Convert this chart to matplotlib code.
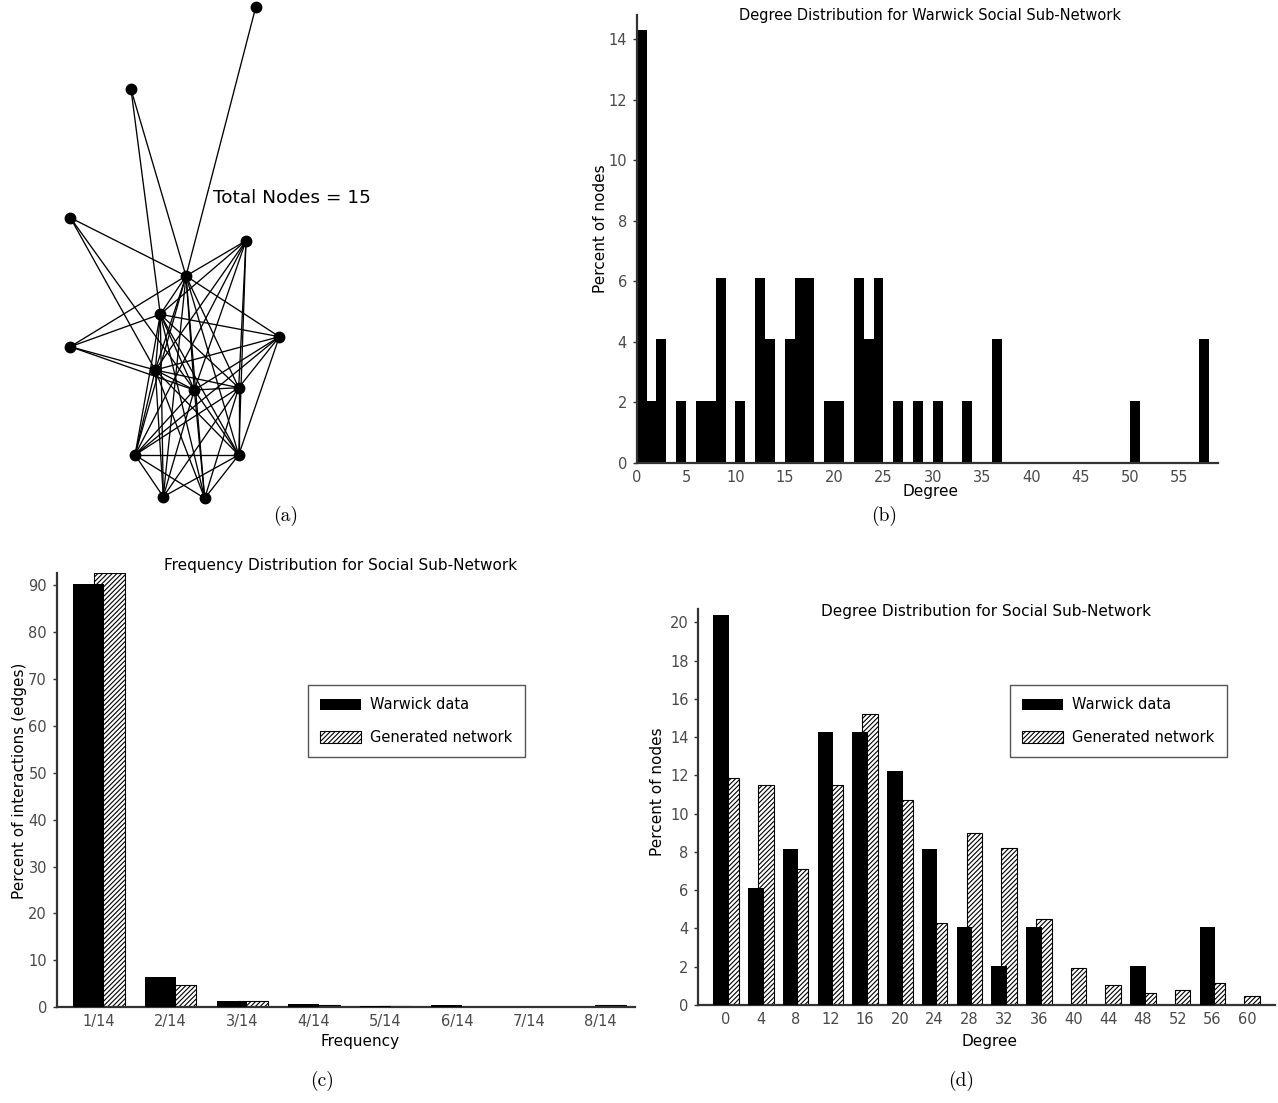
import numpy as np
import matplotlib
matplotlib.use("Agg")
import matplotlib.pyplot as plt

# ---- data ----
# (a) network layout (picture coords, y down) and edge list
node_x = [255.7, 131, 70.3, 246, 186, 160.3, 279.3, 70.3, 155.3, 194.3, 238.7, 135, 238.7, 163.3, 204.7]
node_y = [7.3, 89.3, 217.7, 240.7, 276, 314.3, 336.7, 346.7, 370, 390, 387.7, 455, 455, 496.7, 498.3]
node_names = "ABCDEFGHIJKLMNO"
edges = ["AE", "BE", "BF", "CE", "CI", "CJ",
         "DE", "DF", "DI", "DJ", "DK", "DM", "DL",
         "EF", "EG", "EH", "EI", "EJ", "EK", "EL", "EM", "EN", "EO",
         "FG", "FH", "FI", "FJ", "FK", "FL", "FM", "FN", "FO",
         "GI", "GJ", "GK", "GM", "GL", "HI", "HJ",
         "IJ", "IK", "IL", "IM", "IN", "IO",
         "JK", "JL", "JM", "JN", "JO", "KL", "KN", "KO", "KM",
         "LM", "LN", "LO", "MN", "MO"]

# (b) degree histogram (percent of nodes), only non-empty bins
deg_b = [0, 1, 2, 4, 6, 7, 8, 10, 12, 13, 15, 16, 17, 19, 20, 22, 23, 24, 26, 28, 30, 33, 36, 50, 57]
pct_b = [14.29, 2.04, 4.08, 2.04, 2.04, 2.04, 6.12, 2.04, 6.12, 4.08, 4.08, 6.12, 6.12,
         2.04, 2.04, 6.12, 4.08, 6.12, 2.04, 2.04, 2.04, 2.04, 4.08, 2.04, 4.08]

# (c) frequency distribution
freq_labels = ["1/14", "2/14", "3/14", "4/14", "5/14", "6/14", "7/14", "8/14"]
freq_warwick = [90.2, 6.5, 1.4, 0.8, 0.3, 0.5, 0.0, 0.1]
freq_generated = [92.5, 4.8, 1.4, 0.4, 0.3, 0.1, 0.0, 0.5]

# (d) degree distribution
deg_labels = ["0", "4", "8", "12", "16", "20", "24", "28", "32", "36", "40", "44", "48", "52", "56", "60"]
deg_warwick = [20.41, 6.12, 8.16, 14.29, 14.29, 12.24, 8.16, 4.08, 2.04, 4.08, 0, 0, 2.04, 0, 4.08, 0]
deg_generated = [11.85, 11.5, 7.1, 11.5, 15.2, 10.7, 4.27, 8.97, 8.19, 4.48, 1.92, 1.05, 0.61, 0.78, 1.13, 0.49]

W, H = 1278, 1103
SPINE = "#333333"
TICK = "#4a4a4a"
plt.rcParams["hatch.linewidth"] = 0.8


def px_axes(fig, left, top, right, bottom):
    return fig.add_axes([left / W, 1 - bottom / H, (right - left) / W, (bottom - top) / H])


def style_ax(ax):
    for s in ["top", "right"]:
        ax.spines[s].set_visible(False)
    for s in ["left", "bottom"]:
        ax.spines[s].set_color(SPINE)
        ax.spines[s].set_linewidth(1.6)
    ax.tick_params(axis="both", labelcolor=TICK, labelsize=10.5, color=SPINE)
    ax.tick_params(axis="x", length=0, pad=5)
    ax.tick_params(axis="y", length=3, width=1, pad=4)


def paired_bars(ax, labels, black, hatched, width):
    x = np.arange(len(labels))
    ax.bar(x + 0.144, hatched, width=width, facecolor="white", edgecolor="black",
           hatch="///////", linewidth=0.8, zorder=2, label="Generated network")
    ax.bar(x - 0.144, black, width=width, color="black", zorder=3, label="Warwick data")
    ax.set_xticks(x)
    ax.set_xticklabels(labels)
    style_ax(ax)
    h, l = ax.get_legend_handles_labels()
    return h[::-1], l[::-1]


def add_legend(ax, h, l, anchor):
    leg = ax.legend(h, l, loc="upper left", bbox_to_anchor=anchor, borderaxespad=0,
                    fontsize=10.5, handlelength=2.8, handleheight=0.85, labelspacing=1.2,
                    handletextpad=0.6, borderpad=0.85, fancybox=False, framealpha=1,
                    edgecolor="#555555")
    leg.get_frame().set_linewidth(1.0)


fig = plt.figure(figsize=(W / 100, H / 100), dpi=100)

# ---- (a) network ----
ax_a = px_axes(fig, 0, 0, 400, 520)
ax_a.set_xlim(0, 400)
ax_a.set_ylim(520, 0)
ax_a.axis("off")
for e in edges:
    i, j = node_names.index(e[0]), node_names.index(e[1])
    ax_a.plot([node_x[i], node_x[j]], [node_y[i], node_y[j]], color="black", lw=0.95, zorder=1)
ax_a.plot(node_x, node_y, "o", color="black", ms=7.5, zorder=2)
ax_a.text(213, 198, "Total Nodes = 15", fontsize=13.3, va="center", ha="left")

# ---- (b) histogram ----
ax_b = px_axes(fig, 636.7, 15, 1218, 462.7)
ax_b.bar(deg_b, pct_b, width=1, align="edge", color="black")
ax_b.set_xlim(0, 58.9)
ax_b.set_ylim(0, 14.8)
ax_b.set_xticks(np.arange(0, 56, 5))
ax_b.set_yticks(np.arange(0, 15, 2))
style_ax(ax_b)
ax_b.set_xlabel("Degree", fontsize=11, va="center")
ax_b.xaxis.set_label_coords(0.5046, -0.0654)
ax_b.set_ylabel("Percent of nodes", fontsize=11, va="center")
ax_b.yaxis.set_label_coords(-0.063, 0.522)
ax_b.text(0.5046, 0.998, "Degree Distribution for Warwick Social Sub-Network",
          transform=ax_b.transAxes, ha="center", va="center", fontsize=10.5)

# ---- (c) frequency distribution ----
ax_c = px_axes(fig, 56.7, 572.7, 635, 1007.3)
h, l = paired_bars(ax_c, freq_labels, freq_warwick, freq_generated, 0.432)
ax_c.set_xlim(-0.59, 7.48)
ax_c.set_ylim(0, 92.6)
ax_c.set_yticks(np.arange(0, 91, 10))
ax_c.set_xlabel("Frequency", fontsize=11, va="center")
ax_c.xaxis.set_label_coords(0.5245, -0.079)
ax_c.set_ylabel("Percent of interactions (edges)", fontsize=11, va="center")
ax_c.yaxis.set_label_coords(-0.0635, 0.5207)
ax_c.text(0.4916, 1.0177, "Frequency Distribution for Social Sub-Network",
          transform=ax_c.transAxes, ha="center", va="center", fontsize=11)
add_legend(ax_c, h, l, (0.4346, 0.7416))

# ---- (d) degree distribution ----
ax_d = px_axes(fig, 698.3, 609, 1275, 1005)
h, l = paired_bars(ax_d, deg_labels, deg_warwick, deg_generated, 0.446)
ax_d.set_xlim(-0.8, 15.8)
ax_d.set_ylim(0, 20.7)
ax_d.set_yticks(np.arange(0, 21, 2))
ax_d.set_xlabel("Degree", fontsize=11, va="center")
ax_d.xaxis.set_label_coords(0.5058, -0.0927)
ax_d.set_ylabel("Percent of nodes", fontsize=11, va="center")
ax_d.yaxis.set_label_coords(-0.0699, 0.5386)
ax_d.text(0.4984, 0.9932, "Degree Distribution for Social Sub-Network",
          transform=ax_d.transAxes, ha="center", va="center", fontsize=11)
add_legend(ax_d, h, l, (0.5405, 0.808))

# ---- sub-captions ----
for lab, cx, cy in [("(a)", 286, 516), ("(b)", 884, 516), ("(c)", 322, 1081), ("(d)", 961, 1081)]:
    fig.text(cx / W, 1 - cy / H, lab, family="cmr10", fontsize=14, ha="center", va="center")

fig.savefig("out.png", dpi=100)
plt.close()
